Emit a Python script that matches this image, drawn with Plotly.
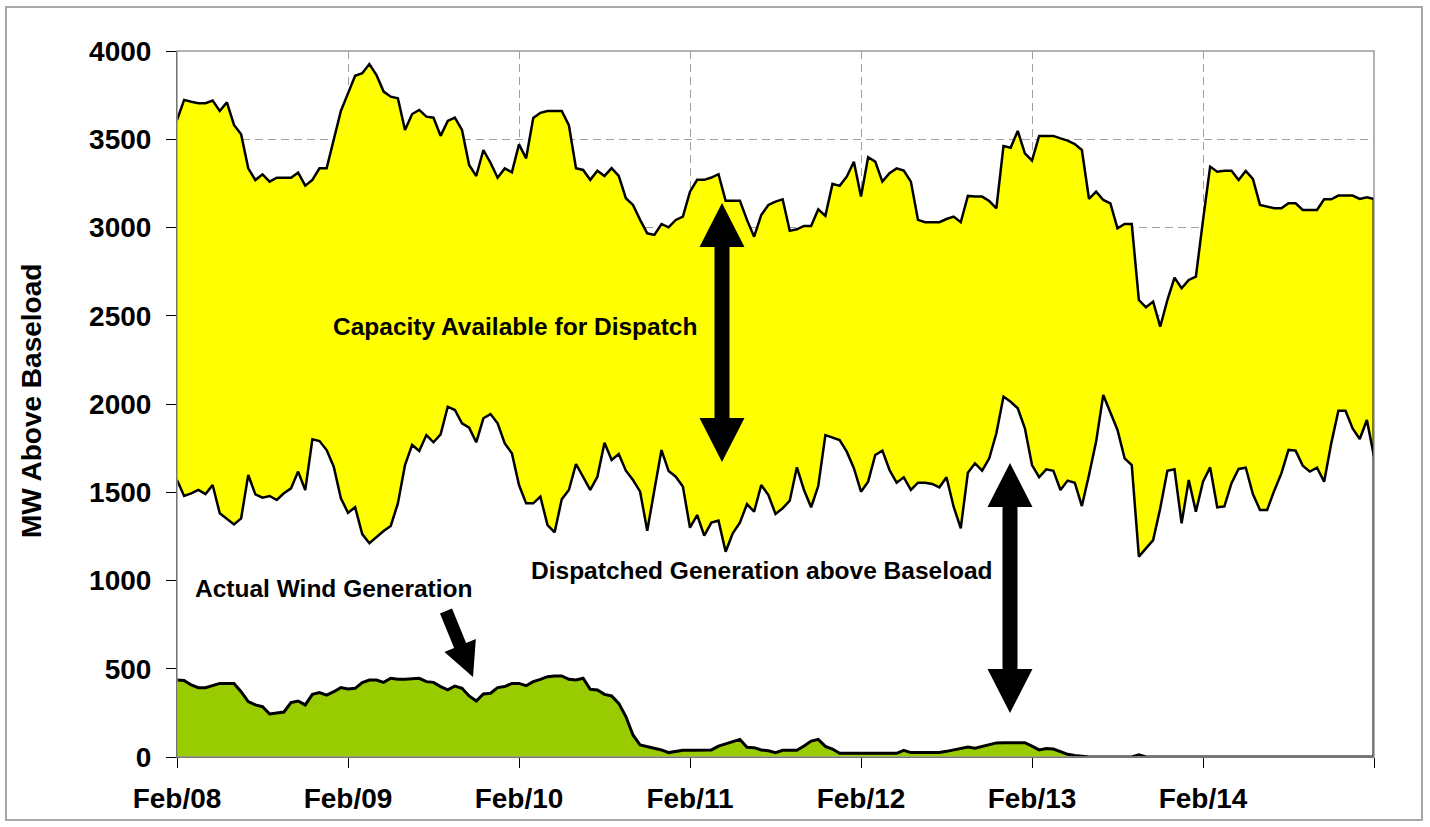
import plotly.graph_objects as go
import pandas as pd
import math

# ---- data (hourly, Feb 08 00:00 -> Feb 15 00:00) ----
capacity = [3609,3723,3713,3704,3704,3719,3660,3709,3581,3528,
            3335,3269,3301,3260,3282,3282,3282,3311,3237,3269,
            3335,3335,3496,3660,3760,3860,3874,3926,3864,3770,
            3741,3732,3553,3643,3666,3628,3622,3519,3604,3622,
            3553,3354,3292,3439,3367,3282,3335,3313,3471,3392,
            3620,3650,3660,3660,3660,3580,3336,3326,3270,3322,
            3292,3336,3292,3166,3128,3043,2967,2958,3020,3001,
            3043,3062,3203,3270,3270,3283,3302,3152,3152,3152,
            3043,2948,3071,3128,3147,3160,2981,2990,3009,3009,
            3103,3066,3247,3236,3288,3373,3175,3398,3373,3260,
            3307,3335,3322,3260,3043,3030,3030,3030,3048,3062,
            3030,3179,3175,3175,3150,3109,3462,3452,3547,3420,
            3379,3519,3519,3519,3505,3492,3473,3439,3162,3203,
            3156,3137,2995,3020,3020,2589,2548,2580,2438,2589,
            2716,2656,2703,2722,3040,3345,3316,3322,3322,3269,
            3320,3275,3128,3118,3109,3109,3137,3137,3099,3099,
            3099,3160,3160,3181,3181,3181,3162,3171,3162]

dispatched = [1569,1479,1494,1513,1490,1541,1381,1352,1318,1352,
              1598,1488,1469,1479,1456,1494,1522,1617,1513,1800,
              1790,1739,1645,1466,1384,1415,1263,1211,1248,1280,
              1309,1437,1654,1768,1734,1824,1783,1828,1985,1966,
              1891,1866,1783,1919,1943,1891,1777,1721,1541,1437,
              1437,1475,1314,1273,1460,1513,1660,1588,1513,1588,
              1781,1683,1717,1622,1569,1503,1282,1513,1739,1620,
              1588,1532,1299,1371,1254,1328,1339,1163,1267,1328,
              1433,1390,1541,1484,1377,1409,1452,1641,1513,1415,
              1535,1824,1811,1796,1730,1636,1503,1560,1711,1736,
              1626,1554,1585,1513,1554,1554,1547,1528,1585,1418,
              1296,1611,1664,1622,1692,1834,2042,2013,1976,1862,
              1654,1585,1630,1622,1513,1566,1554,1422,1598,1787,
              2051,1957,1853,1692,1654,1135,1182,1229,1409,1622,
              1630,1324,1569,1390,1560,1641,1415,1420,1551,1632,
              1639,1490,1400,1400,1509,1607,1740,1736,1651,1617,
              1639,1560,1777,1962,1962,1862,1802,1909,1702]

wind = [436,433,408,393,393,404,417,417,417,370,
        314,295,285,244,251,255,308,317,295,355,
        365,351,370,393,385,389,421,436,436,423,
        446,440,440,442,446,427,423,399,380,402,
        389,346,317,357,361,393,399,417,417,404,
        427,440,455,459,459,440,436,446,384,380,
        355,346,304,229,125,68,59,49,40,25,
        30,38,38,38,38,40,62,75,90,100,
        55,53,40,35,25,38,38,38,62,90,
        100,60,45,21,21,21,21,21,21,21,
        21,21,38,25,25,25,25,25,32,40,
        48,57,50,60,72,80,81,81,81,81,
        62,40,48,45,30,15,8,2,0,0,
        0,0,0,0,0,12,0,0,0,0,
        0,0,0,0,0,0,0,0,0,0,
        0,0,0,0,0,0,0,0,0,0,
        0,0,0,0,0,0,0,0,0]

times = pd.date_range("2009-02-08 00:00", periods=len(capacity), freq="h")
day_ticks = pd.date_range("2009-02-08", "2009-02-15", freq="D")
day_labels = ["Feb/08", "Feb/09", "Feb/10", "Feb/11", "Feb/12", "Feb/13", "Feb/14", ""]
y_ticks = [0, 500, 1000, 1500, 2000, 2500, 3000, 3500, 4000]

# ---- layout geometry (pixels) ----
W, H = 1430, 827
L, R, T, B = 177, 1374, 51, 757


def px(x):
    return (x - L) / (R - L)


def py(y):
    return (B - y) / (B - T)


fig = go.Figure()
fig.add_trace(go.Scatter(x=times, y=capacity, mode="lines", fill="tozeroy",
                         fillcolor="#FFFF00", line=dict(color="black", width=2.5),
                         showlegend=False, hoverinfo="skip"))
fig.add_trace(go.Scatter(x=times, y=dispatched, mode="lines", fill="tozeroy",
                         fillcolor="#FFFFFF", line=dict(color="black", width=2.5),
                         showlegend=False, hoverinfo="skip"))
fig.add_trace(go.Scatter(x=times, y=wind, mode="lines", fill="tozeroy",
                         fillcolor="#99CC00", line=dict(color="black", width=3),
                         showlegend=False, hoverinfo="skip"))

shapes = []
# closing vertical edge of the area series at the last hour
shapes.append(dict(type="line", xref="x", yref="y", x0=times[-1], x1=times[-1],
                   y0=0, y1=capacity[-1], line=dict(color="black", width=3),
                   layer="above"))
# plot-area border (top/right grey)
shapes.append(dict(type="rect", xref="paper", yref="paper", x0=0, x1=1, y0=0, y1=1,
                   line=dict(color="#9A9A9A", width=1.5), layer="above"))
# outer chart frame
shapes.append(dict(type="rect", xref="paper", yref="paper",
                   x0=px(6), x1=px(1422), y0=py(820), y1=py(7),
                   line=dict(color="#A8A8A8", width=2), layer="above"))


def poly(points):
    s = "M " + " L ".join(f"{px(a):.5f},{py(b):.5f}" for a, b in points) + " Z"
    return dict(type="path", xref="paper", yref="paper", path=s,
                fillcolor="black", line=dict(color="black", width=0), layer="above")


def double_arrow(xc, ytop, ybot, hw=22.5, hl=44, sw=7.5):
    return poly([(xc, ytop), (xc + hw, ytop + hl), (xc + sw, ytop + hl),
                 (xc + sw, ybot - hl), (xc + hw, ybot - hl), (xc, ybot),
                 (xc - hw, ybot - hl), (xc - sw, ybot - hl), (xc - sw, ytop + hl),
                 (xc - hw, ytop + hl)])


def single_arrow(x0, y0, x1, y1, hw=17, hl=34, sw=6.5):
    dx, dy = x1 - x0, y1 - y0
    n = math.hypot(dx, dy)
    ux, uy = dx / n, dy / n
    nx, ny = -uy, ux
    bx, by = x1 - ux * hl, y1 - uy * hl
    return poly([(x0 + nx * sw, y0 + ny * sw), (bx + nx * sw, by + ny * sw),
                 (bx + nx * hw, by + ny * hw), (x1, y1),
                 (bx - nx * hw, by - ny * hw), (bx - nx * sw, by - ny * sw),
                 (x0 - nx * sw, y0 - ny * sw)])


shapes.append(double_arrow(722, 203, 462))
shapes.append(double_arrow(1010, 463, 713))
shapes.append(single_arrow(446, 611, 473, 677))

label_font = dict(family="Arial, Liberation Sans, sans-serif",
                  size=24.5, color="black", weight="bold")
annotations = [
    dict(text="Capacity Available for Dispatch", x=px(515), y=py(326)),
    dict(text="Dispatched Generation above Baseload", x=px(762), y=py(570)),
    dict(text="Actual Wind Generation", x=px(333), y=py(588)),
]
annotations = [dict(a, xref="paper", yref="paper", showarrow=False,
                    xanchor="center", yanchor="middle", font=label_font)
               for a in annotations]
annotations.append(dict(text="MW Above Baseload", xref="paper", yref="paper",
                        x=px(31), y=py(401), textangle=-90, showarrow=False,
                        xanchor="center", yanchor="middle",
                        font=dict(family="Arial, Liberation Sans, sans-serif",
                                  size=28, color="black", weight="bold")))

tick_font = dict(family="Arial, Liberation Sans, sans-serif", size=28,
                 color="black", weight="bold")

fig.update_layout(
    width=W, height=H,
    margin=dict(l=L, r=W - R, t=T, b=H - B, pad=0),
    paper_bgcolor="white", plot_bgcolor="white",
    shapes=shapes, annotations=annotations,
    xaxis=dict(type="date", range=[day_ticks[0], day_ticks[-1]],
               tickvals=day_ticks, ticktext=day_labels, tickfont=tick_font,
               showgrid=True, gridcolor="#A0A0A0", griddash="8px,5px", gridwidth=1,
               showline=True, linecolor="black", linewidth=1,
               ticks="outside", ticklen=10, tickcolor="black", tickwidth=1,
               ticklabelstandoff=6,
               zeroline=False, fixedrange=True),
    yaxis=dict(range=[0, 4000], tickvals=y_ticks, tickfont=tick_font,
               showgrid=True, gridcolor="#A0A0A0", griddash="8px,5px", gridwidth=1,
               showline=True, linecolor="black", linewidth=1,
               ticks="outside", ticklen=10, tickcolor="black", tickwidth=1,
               ticklabelstandoff=9,
               zeroline=False, fixedrange=True),
)

fig.write_html("out.html", config={"displayModeBar": False},
               post_script="document.body.style.margin='0px';")
